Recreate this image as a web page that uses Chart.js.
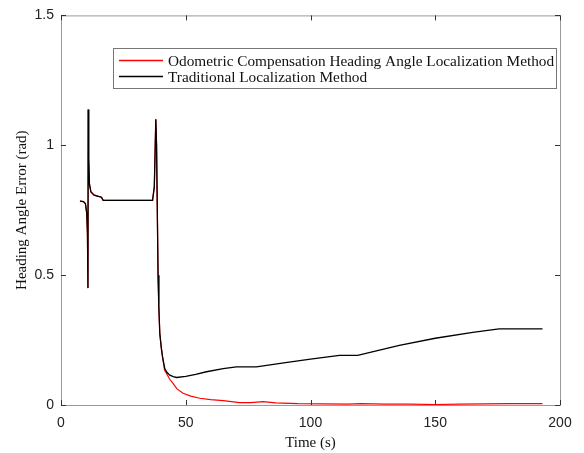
<!DOCTYPE html>
<html>
<head>
<meta charset="utf-8">
<script src="https://cdn.jsdelivr.net/npm/chart.js@4.4.1/dist/chart.umd.min.js"></script>
<style>
  html, body { margin: 0; padding: 0; background: #fff; }
  #wrap { width: 584px; height: 453px; }
</style>
</head>
<body>
<div id="wrap"><canvas id="chart" width="584" height="453"></canvas></div>
<script>
// Data
const redLabel = 'Odometric Compensation Heading Angle Localization Method';
const blackLabel = 'Traditional Localization Method';

const redTime = [7.6, 9, 9.8, 10.3, 10.6, 10.8, 10.9, 11.1, 11.4, 12, 13.3, 15, 16.2, 16.9, 36.7, 37.4, 38.0, 38.3, 38.6, 38.9, 39.2, 39.6, 40.2, 40.7, 41.5, 42.3, 43.5, 44.9, 46.5, 48.9, 52, 55.6, 60, 65, 71.6, 76, 81, 86, 95, 105, 115, 120, 130, 140, 150, 160, 170, 180, 193];
const redError = [0.785, 0.783, 0.775, 0.74, 0.66, 0.45, 1.138, 0.95, 0.85, 0.82, 0.808, 0.803, 0.80, 0.788, 0.788, 0.84, 1.10, 1.0, 0.75, 0.5, 0.38, 0.275, 0.22, 0.185, 0.135, 0.121, 0.1, 0.083, 0.062, 0.045, 0.034, 0.026, 0.021, 0.017, 0.009, 0.009, 0.013, 0.008, 0.005, 0.004, 0.003, 0.005, 0.003, 0.003, 0.002, 0.003, 0.004, 0.005, 0.005];

const blackTime = [7.6, 9, 9.8, 10.3, 10.6, 10.8, 10.9, 11.1, 11.4, 12, 13.3, 15, 16.2, 16.9, 36.7, 37.4, 38.0, 38.3, 38.6, 38.9, 39.2, 39.6, 40.2, 40.7, 41.6, 42.5, 43.6, 45, 46.3, 50, 54, 58.3, 65, 70.3, 78.3, 90, 100, 111.6, 118.9, 135.6, 150, 165, 175.6, 193];
const blackError = [0.785, 0.783, 0.775, 0.74, 0.66, 0.45, 1.138, 0.95, 0.85, 0.82, 0.808, 0.803, 0.80, 0.788, 0.788, 0.84, 1.10, 1.0, 0.75, 0.5, 0.38, 0.275, 0.22, 0.185, 0.14, 0.125, 0.115, 0.109, 0.106, 0.11, 0.118, 0.128, 0.14, 0.147, 0.147, 0.163, 0.177, 0.191, 0.191, 0.23, 0.257, 0.28, 0.293, 0.293];

const xTicks = [0, 50, 100, 150, 200];
const yTicks = [0, 0.5, 1, 1.5];
const yTickLabels = ['0', '0.5', '1', '1.5'];

function toPoints(xs, ys) {
  return xs.map((x, i) => ({ x: x, y: ys[i] }));
}

// Frame, inward ticks and legend box, drawn like the MATLAB figure
const framePlugin = {
  id: 'frame',
  afterDraw(chart) {
    const { ctx, chartArea: a, scales } = chart;
    ctx.save();
    ctx.strokeStyle = '#9a9a9a';
    ctx.lineWidth = 1;
    ctx.strokeRect(a.left + 0.5, a.top + 0.5, a.right - a.left, a.bottom - a.top);

    ctx.strokeStyle = '#333';
    ctx.beginPath();
    xTicks.forEach(v => {
      const px = Math.round(scales.x.getPixelForValue(v)) + 0.5;
      ctx.moveTo(px, a.bottom); ctx.lineTo(px, a.bottom - 5);
      ctx.moveTo(px, a.top); ctx.lineTo(px, a.top + 5);
    });
    yTicks.forEach(v => {
      const py = Math.round(scales.y.getPixelForValue(v)) + 0.5;
      ctx.moveTo(a.left, py); ctx.lineTo(a.left + 5, py);
      ctx.moveTo(a.right, py); ctx.lineTo(a.right - 5, py);
    });
    ctx.stroke();

    // legend
    const bx = 113.5, by = 48.5, bw = 443, bh = 40;
    ctx.fillStyle = '#fff';
    ctx.fillRect(bx, by, bw, bh);
    ctx.strokeStyle = '#777';
    ctx.strokeRect(bx, by, bw, bh);
    ctx.font = '15.3px "Liberation Serif"';
    ctx.textBaseline = 'middle';
    ctx.textAlign = 'left';
    chart.data.datasets.forEach((ds, i) => {
      const y = by + 12 + i * 16;
      ctx.strokeStyle = ds.borderColor;
      ctx.lineWidth = 1.5;
      ctx.beginPath();
      ctx.moveTo(119, y); ctx.lineTo(163, y);
      ctx.stroke();
      ctx.fillStyle = '#111';
      ctx.fillText(ds.label, 168, y + 1);
    });
    ctx.restore();
  }
};

new Chart(document.getElementById('chart'), {
  type: 'line',
  data: {
    datasets: [
      {
        label: redLabel,
        data: toPoints(redTime, redError),
        borderColor: '#ff0000',
        borderWidth: 1.2,
        pointRadius: 0,
        tension: 0,
        order: 2
      },
      {
        label: blackLabel,
        data: toPoints(blackTime, blackError),
        borderColor: '#000000',
        borderWidth: 1.3,
        pointRadius: 0,
        tension: 0,
        order: 1
      }
    ]
  },
  options: {
    responsive: false,
    animation: false,
    layout: { padding: { top: 13, right: 24, left: 0, bottom: 0 } },
    plugins: {
      legend: { display: false },
      tooltip: { enabled: false }
    },
    scales: {
      x: {
        type: 'linear',
        min: 0,
        max: 200,
        afterBuildTicks(scale) { scale.ticks = xTicks.map(v => ({ value: v })); },
        afterFit(scale) { scale.height = 48; },
        grid: { display: false, drawTicks: false },
        border: { display: false },
        ticks: {
          padding: 10,
          color: '#222',
          font: { family: '"Liberation Sans"', size: 14 },
          maxRotation: 0
        },
        title: {
          display: true,
          text: 'Time (s)',
          color: '#111',
          font: { family: '"Liberation Serif"', size: 15 },
          padding: { top: 0, bottom: 1 }
        }
      },
      y: {
        type: 'linear',
        min: 0,
        max: 1.5,
        afterBuildTicks(scale) { scale.ticks = yTicks.map(v => ({ value: v })); },
        afterFit(scale) { scale.width = 61; },
        grid: { display: false, drawTicks: false },
        border: { display: false },
        ticks: {
          padding: 7,
          color: '#222',
          font: { family: '"Liberation Sans"', size: 14 },
          callback: (v) => yTickLabels[yTicks.indexOf(v)]
        },
        title: {
          display: true,
          text: 'Heading Angle Error (rad)',
          color: '#111',
          font: { family: '"Liberation Serif"', size: 15 },
          padding: { top: 13, bottom: 0 }
        }
      }
    }
  },
  plugins: [framePlugin]
});
</script>
</body>
</html>
